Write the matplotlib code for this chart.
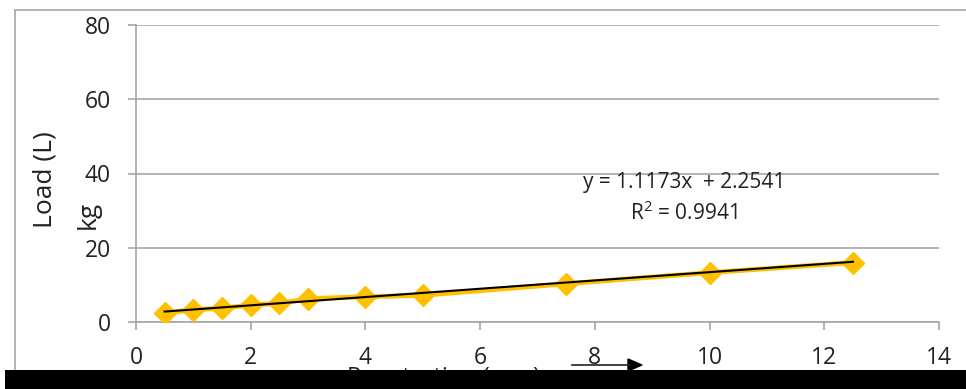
import matplotlib.pyplot as plt
from matplotlib.patches import Rectangle

# penetration (mm) vs load (kg)
penetration = [0.5, 1, 1.5, 2, 2.5, 3, 4, 5, 7.5, 10, 12.5]
load = [2.4, 3.3, 3.7, 4.6, 5.0, 6.3, 6.8, 7.2, 10.3, 13.3, 16.0]
slope, intercept = 1.1173, 2.2541
eq_text = "y = 1.1173x  + 2.2541"
r2_text = "R$^2$ = 0.9941"

plt.rcParams['font.family'] = ['Open Sans', 'DejaVu Sans']
plt.rcParams['mathtext.default'] = 'regular'

fig = plt.figure(figsize=(9.66, 3.89), dpi=100)
ax = fig.add_axes([136/966, 67/389, 803/966, 297/389])

grey = '#a6a6a6'
ax.plot(penetration, load, color='#ffc000', lw=3.5, marker='D', ms=11, zorder=3)
trend_x = [penetration[0], penetration[-1]]
ax.plot(trend_x, [slope*x + intercept for x in trend_x], color='black', lw=1.5, zorder=4)

ax.set_xlim(0, 14)
ax.set_ylim(0, 80)
ax.set_xticks(range(0, 15, 2))
ax.set_yticks(range(0, 81, 20))
ax.yaxis.grid(True, color=grey, lw=1.2)
ax.set_axisbelow(True)
for s in ['top', 'right']:
    ax.spines[s].set_visible(False)
for s in ['left', 'bottom']:
    ax.spines[s].set_color(grey)
    ax.spines[s].set_linewidth(1.2)
ax.tick_params(axis='both', colors=grey, labelcolor='#222222', labelsize=16.5,
               length=6, width=1.2, direction='out')
ax.tick_params(axis='y', pad=12)
ax.tick_params(axis='x', pad=11)

ax.text(9.55, 37.5, eq_text, fontsize=15, ha='center', va='center', color='#222222')
ax.text(9.55, 29.2, r2_text, fontsize=15, ha='center', va='center', color='#222222')

fig.text(45/966, 1 - 180/389, "Load (L)", rotation=90, fontsize=19,
         ha='center', va='center', color='#222222')
fig.text(88/966, 1 - 215/389, "kg", rotation=90, fontsize=19,
         ha='center', va='center', color='#222222')

# x label, mostly hidden behind the black strip
fig.text(347/966, 1 - 378/389, "Penetration (mm)", fontsize=17,
         ha='left', va='center', color='#222222')
fig.add_artist(plt.Line2D([572/966, 630/966], [1 - 365/389]*2, color='#222222', lw=1.2))
fig.add_artist(plt.Polygon([[628/966, 1 - 359/389], [642/966, 1 - 365/389], [628/966, 1 - 371/389]],
                           closed=True, color='black'))

# outer chart border
fig.add_artist(Rectangle((15/966, -0.1), 1.1, 1 - 10/389 + 0.1, transform=fig.transFigure,
                         fill=False, edgecolor=grey, lw=1.2))
# black strip at bottom
fig.add_artist(Rectangle((5/966, 0), 1, 19/389, transform=fig.transFigure,
                         facecolor='black', edgecolor='none', zorder=10))

fig.savefig('out.png', dpi=100)
